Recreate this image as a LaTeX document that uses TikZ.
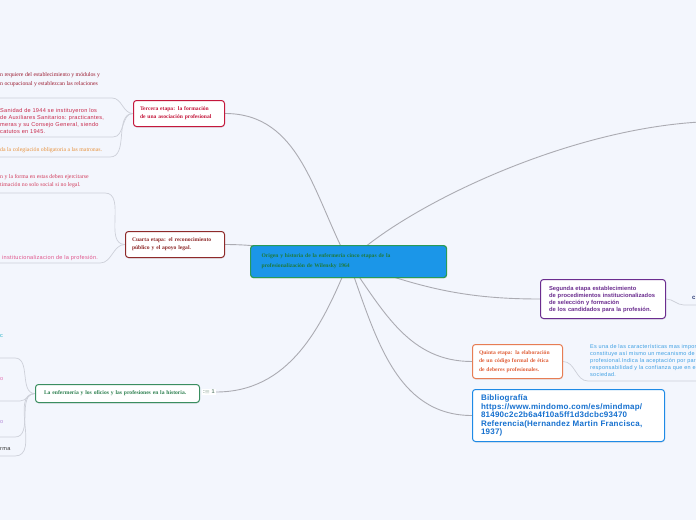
\documentclass[tikz,border=0pt]{standalone}
\usepackage{fontspec}
\setmainfont{Liberation Serif}
\setsansfont{Liberation Sans}
\usetikzlibrary{shadows}

\definecolor{paper}{HTML}{F3F6FD}
\definecolor{branchgray}{HTML}{ABABB2}
\definecolor{twiggray}{HTML}{CDD0D9}
\definecolor{centralblue}{HTML}{1B96E8}
\definecolor{centralgreen}{HTML}{2A9A56}
\definecolor{centraltext}{HTML}{1E7A3C}
\definecolor{tercerared}{HTML}{C4183C}
\definecolor{cuartared}{HTML}{8E2A2A}
\definecolor{segundapurple}{HTML}{6B2D8F}
\definecolor{quintaorange}{HTML}{E77D54}
\definecolor{quintatext}{HTML}{E0603A}
\definecolor{biblioblue}{HTML}{1E8AE6}
\definecolor{bibliotext}{HTML}{1570CF}
\definecolor{enfgreen}{HTML}{3A8E60}
\definecolor{enftext}{HTML}{2E8050}
\definecolor{countgreen}{HTML}{6A8A7A}
\definecolor{leafmaroon}{HTML}{9B1B30}
\definecolor{leafcrimson}{HTML}{C8284A}
\definecolor{leaforange}{HTML}{E8923C}
\definecolor{leafrose}{HTML}{D23C5C}
\definecolor{leafpink}{HTML}{E0558C}
\definecolor{leafteal}{HTML}{27B3C6}
\definecolor{leafmagenta}{HTML}{E574B5}
\definecolor{leaflavender}{HTML}{B58BD8}
\definecolor{leafdark}{HTML}{333333}
\definecolor{leafblue}{HTML}{3D9FE3}
\definecolor{leafnavy}{HTML}{2B3A73}

\pgfdeclarelayer{canvas}
\pgfdeclarelayer{links}
\pgfsetlayers{canvas,links,main}

\begin{document}
\begin{tikzpicture}[
  x=1pt, y=1pt,
  stage/.style={rectangle, rounded corners=3pt, fill=white, line width=1pt, anchor=north west, align=left, inner xsep=6.5pt, inner ysep=0pt, drop shadow={shadow xshift=0.3pt, shadow yshift=-1pt, opacity=0.18}},
  serifb/.style={font=\rmfamily\bfseries\fontsize{5.6}{8}\selectfont},
  sansb/.style={font=\sffamily\bfseries\fontsize{5.8}{7}\selectfont},
  leaf/.style={anchor=west, align=left, inner sep=0pt},
  serifr/.style={font=\rmfamily\fontsize{5.8}{9}\selectfont},
  sansr/.style={font=\sffamily\addfontfeature{LetterSpace=5}\fontsize{5.6}{6.8}\selectfont},
  branch/.style={draw=branchgray, line width=0.9pt},
  twig/.style={draw=twiggray, line width=0.7pt}
]
\begin{pgfonlayer}{canvas}
  \fill[paper] (0,0) rectangle (696,-520);
\end{pgfonlayer}
\useasboundingbox (0,0) rectangle (696,-520);

% central topic
\node[stage, fill=centralblue, draw=centralgreen, line width=1.2pt, text=centraltext, inner xsep=11pt, text width=174pt, minimum height=32pt, font=\rmfamily\bfseries\fontsize{5.6}{10}\selectfont] (central) at (250,-245) {Origen y historia de la enfermería cinco etapas de la\\profesionalización de Wilensky  1964};

% stages
\node[stage, serifb, draw=tercerared, text=tercerared, text width=78pt, minimum height=26pt] (tercera) at (133,-100) {Tercera etapa: la formación\\de una asociación profesional};
\node[stage, serifb, draw=cuartared, text=cuartared, text width=86pt, minimum height=26pt] (cuarta) at (125,-231) {Cuarta etapa: el reconocimiento\\público y el apoyo legal.};
\node[stage, sansb, draw=segundapurple, text=segundapurple, inner xsep=8.5pt, text width=108pt, minimum height=39pt] (segunda) at (540,-279) {Segunda etapa establecimiento\\de procedimientos institucionalizados\\de selección y formación\\de los candidados para la profesión.};
\node[stage, draw=quintaorange, text=quintatext, text width=77pt, minimum height=34pt, font=\rmfamily\bfseries\fontsize{5.6}{8.5}\selectfont] (quinta) at (472,-344) {Quinta etapa: la elaboración\\de un código formal de ética\\de deberes profesionales.};
\node[stage, draw=biblioblue, text=bibliotext, inner xsep=8.5pt, text width=175pt, minimum height=52pt, font=\sffamily\bfseries\addfontfeature{LetterSpace=3}\fontsize{8}{8.5}\selectfont] (biblio) at (472,-389) {Bibliografía\\https://www.mindomo.com/es/mindmap/\\81490c2c2b6a4f10a5ff1d3dcbc93470\\Referencia(Hernandez Martin Francisca,\\1937)};
\node[stage, serifb, draw=enfgreen, text=enftext, inner xsep=8.5pt, text width=147pt, minimum height=18pt] (enfermeria) at (35,-384) {La enfermería y los oficios y las profesiones en la historia.};
\node[anchor=west, fill=white, inner sep=1pt, text=countgreen, font=\sffamily\bfseries\fontsize{5.5}{5.5}\selectfont] (enfcount) at (202,-392) {:\kern-0.4pt$\equiv$ 1};

% leaves
\node[leaf, serifr, text=leafmaroon] (t1) at (0,-79.5) {n requiere del establecimiento y módulos y\\n ocupacional y establezcan las relaciones};
\node[leaf, sansr, text=leafcrimson] (t2) at (0,-121) {Sanidad de 1944 se instituyeron los\\de Auxiliares Sanitarios: practicantes,\\meras y su Consejo General, siendo\\catutos en 1945.};
\node[leaf, serifr, text=leaforange] (t3) at (0,-150) {da la colegiación obligatoria a las matronas.};
\node[leaf, serifr, text=leafrose, font=\rmfamily\fontsize{5.8}{8}\selectfont] (c1) at (0,-181) {n y la forma en estas deben ejercitarse\\timación no solo social si no legal.};
\node[leaf, sansr, text=leafpink] (c2) at (2,-258) {institucionalizacion de la profesión.};
\node[leaf, sansr, text=leafteal] (e1) at (0,-336) {c};
\node[leaf, sansr, text=leafmagenta] (e2) at (0,-379) {o};
\node[leaf, sansr, text=leaflavender] (e3) at (0,-422) {o};
\node[leaf, sansr, text=leafdark] (e4) at (0,-449) {rma};
\node[leaf, text=leafblue, font=\sffamily\addfontfeature{LetterSpace=5}\fontsize{5.5}{7}\selectfont] (q1) at (590,-360) {Es una de las características mas impor\\constituye así mismo un mecanismo de\\profesional.Indica la aceptación por part\\responsabilidad y la confianza que en el\\sociedad.};
\node[leaf, text=leafnavy, font=\sffamily\bfseries\fontsize{6}{6}\selectfont] (s1) at (692,-298) {c};

\coordinate (offright) at (700,-122);
\coordinate (t1a) at (0,-98);
\coordinate (t2a) at (0,-137);
\coordinate (t3a) at (0,-157);
\coordinate (c1a) at (0,-193);
\coordinate (c2a) at (0,-263);
\coordinate (e1a) at (0,-358);
\coordinate (e2a) at (0,-401);
\coordinate (e3a) at (0,-437);
\coordinate (e4a) at (0,-456);
\coordinate (q1a) at (588,-381);
\coordinate (q1b) at (700,-381);
\coordinate (s1a) at (684,-305);
\coordinate (s1b) at (700,-305);

\begin{pgfonlayer}{links}
  % main branches
  \draw[branch] (central.center) to[out=118,in=0] (tercera.east);
  \draw[branch] (central.center) .. controls (400,-210) and (560,-130) .. (offright);
  \draw[branch] (central.center) to[out=172,in=0] (cuarta.east);
  \draw[branch] (central.center) to[out=-20,in=180] (segunda.west);
  \draw[branch] (central.center) to[out=-55,in=180] (quinta.west);
  \draw[branch] (central.center) to[out=-70,in=180] (biblio.west);
  \draw[branch] (central.center) to[out=-112,in=0] (enfcount.east);
  % leaf lines
  \draw[twig] (t1a) -- ++(112,0) to[out=0,in=180] (tercera.west);
  \draw[twig] (t2a) -- ++(113,0) to[out=0,in=180] (tercera.west);
  \draw[twig] (t3a) -- ++(110,0) to[out=0,in=180] (tercera.west);
  \draw[twig] (c1a) -- ++(105,0) to[out=0,in=180] (cuarta.west);
  \draw[twig] (c2a) -- ++(100,0) to[out=0,in=180] (cuarta.west);
  \draw[twig] (e1a) -- ++(15,0) to[out=0,in=180] (enfermeria.west);
  \draw[twig] (e2a) -- ++(20,0) to[out=0,in=180] (enfermeria.west);
  \draw[twig] (e3a) -- ++(15,0) to[out=0,in=180] (enfermeria.west);
  \draw[twig] (e4a) -- ++(15,0) to[out=0,in=180] (enfermeria.west);
  \draw[twig] (quinta.east) to[out=0,in=180] (q1a) -- (q1b);
  \draw[twig] (segunda.east) to[out=0,in=180] (s1a) -- (s1b);
\end{pgfonlayer}
\end{tikzpicture}
\end{document}
